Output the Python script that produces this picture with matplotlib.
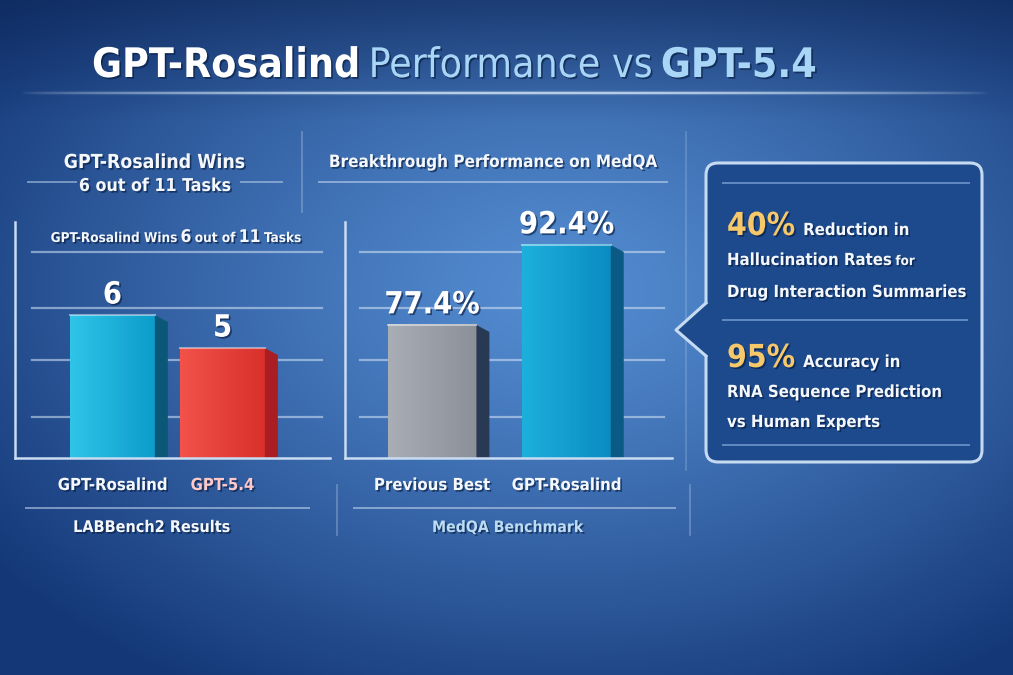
import numpy as np
import matplotlib
matplotlib.use('Agg')
import matplotlib.pyplot as plt
import matplotlib.patheffects as pe
from matplotlib.patches import FancyBboxPatch, Polygon
from matplotlib.colors import LinearSegmentedColormap

# data
lab_categories = ['GPT-Rosalind', 'GPT-5.4']
lab_wins = [6, 5]
lab_value_labels = ['6', '5']

medqa_categories = ['Previous Best', 'GPT-Rosalind']
medqa_scores = [77.4, 92.4]
medqa_value_labels = ['77.4%', '92.4%']

W, H = 1013, 675
plt.rcParams['font.family'] = ['DejaVu Sans']
plt.rcParams['font.stretch'] = 'condensed'

WHITE = '#f4f7fc'
LIGHTBLUE = '#a9d6f7'
GOLD = '#f6c86a'
SHADOW = [pe.withSimplePatchShadow(offset=(1.2, -1.2), shadow_rgbFace='#04183a', alpha=0.6)]

fig = plt.figure(figsize=(W / 100, H / 100), dpi=100)

# background gradient
bg = fig.add_axes([0, 0, 1, 1], zorder=0)
yy, xx = np.mgrid[0:H, 0:W]
d = np.sqrt(((xx - 560) / 700) ** 2 + ((yy - 290) / 460) ** 2)
t = np.clip(d, 0, 1) ** 1.2
center = np.array([0.33, 0.55, 0.82])
edge = np.array([0.08, 0.22, 0.47])
img = center * (1 - t[..., None]) + edge * t[..., None]
top_dark = np.clip((120 - yy) / 120, 0, 1)[..., None] * 0.55
img = img * (1 - top_dark) + np.array([0.05, 0.14, 0.33]) * top_dark
bg.imshow(img, extent=(0, W, H, 0), aspect='auto')
bg.set_xlim(0, W)
bg.set_ylim(H, 0)
bg.axis('off')

# overlay for texts and decorations, in pixel coordinates
ov = fig.add_axes([0, 0, 1, 1], zorder=5)
ov.set_xlim(0, W)
ov.set_ylim(H, 0)
ov.set_autoscale_on(False)
ov.axis('off')
ov.patch.set_alpha(0)

renderer = fig.canvas.get_renderer()


def text_runs(x, y, runs, ha='left', width=None):
    # runs: (text, props, gap after in px); width: scale font sizes to this total width
    arts, gaps = [], []
    for s, props, gap in runs:
        arts.append(ov.text(0, y, s, va='baseline', ha='left', path_effects=SHADOW, **props))
        gaps.append(gap)
    widths = [a.get_window_extent(renderer=renderer).width for a in arts]
    if width:
        k = width / (sum(widths) + sum(gaps))
        for a in arts:
            a.set_fontsize(a.get_fontsize() * k)
        gaps = [g * k for g in gaps]
        widths = [a.get_window_extent(renderer=renderer).width for a in arts]
    total = sum(widths) + sum(gaps)
    start = x - total / 2 if ha == 'center' else x
    for a, w, g in zip(arts, widths, gaps):
        a.set_x(start)
        start += w + g
    return arts


def hline(y, x0, x1, color='#c9dcf2', lw=1.4, alpha=0.75):
    ov.plot([x0, x1], [y, y], color=color, lw=lw, alpha=alpha, solid_capstyle='butt')


def vline(x, y0, y1, alpha=0.35):
    ov.plot([x, x], [y0, y1], color='#c9dcf2', lw=1.2, alpha=alpha)


# title
text_runs(92, 77, [
    ('GPT-Rosalind', dict(fontsize=34, weight='bold', color='white'), 10),
    ('Performance vs', dict(fontsize=34, color=LIGHTBLUE), 10),
    ('GPT-5.4', dict(fontsize=34, weight='bold', color=LIGHTBLUE), 0),
], width=726)

# glowing rule under the title, fading at both ends
gx = np.linspace(0, 1, 400)
gy = np.linspace(-1, 1, 9)
rule = np.zeros((len(gy), len(gx), 4))
rule[..., :3] = (0.9, 0.96, 1.0)
rule[..., 3] = (np.sin(np.pi * gx)[None, :] ** 0.6) * np.exp(-(gy[:, None] / 0.3) ** 2) * 0.95
rule[..., 3] += (np.sin(np.pi * gx)[None, :] ** 0.6) * (1 - np.abs(gy[:, None])) * 0.12
ov.imshow(np.clip(rule, 0, 1), extent=(20, 990, 97, 89), aspect='auto', zorder=1)

# left header
hdr = dict(fontsize=16, weight='bold', color=WHITE)
text_runs(155, 168, [('GPT-Rosalind Wins', hdr, 0)], ha='center', width=182)
text_runs(155, 191, [('6 out of 11 Tasks', hdr, 0)], ha='center', width=153)
hline(182, 27, 77, alpha=0.5)
hline(182, 240, 283, alpha=0.5)
vline(302, 132, 212)

# middle header
text_runs(493, 167, [('Breakthrough Performance on MedQA', dict(fontsize=14.5, weight='bold', color=WHITE), 0)],
          ha='center', width=327)
hline(182, 318, 668, alpha=0.55)
vline(686, 132, 470, alpha=0.25)

# left chart subtitle
small = dict(fontsize=12, weight='bold', color=WHITE)
big = dict(fontsize=15.5, weight='bold', color=WHITE)
text_runs(176, 242, [('GPT-Rosalind Wins', small, 4), ('6', big, 4), ('out of', small, 4),
                     ('11', big, 4), ('Tasks', small, 0)], ha='center', width=250)

# bottom captions
hline(508, 25, 310, alpha=0.55)
hline(508, 353, 676, alpha=0.55)
vline(337, 485, 535)
vline(690, 485, 535)
text_runs(152, 532, [('LABBench2 Results', dict(fontsize=13, weight='bold', color=WHITE), 0)],
          ha='center', width=157)
text_runs(508, 532, [('MedQA Benchmark', dict(fontsize=13, weight='bold', color='#bcdcf4'), 0)],
          ha='center', width=151)


def px_axes(x0, y0, x1, y1):
    return fig.add_axes([x0 / W, 1 - y1 / H, (x1 - x0) / W, (y1 - y0) / H], zorder=2)


def bar_chart(ax, cats, vals, labels, xlim, ylim, width, styles, label_colors, grid_rows, grid_span):
    ax.set_xlim(*xlim)
    ax.set_ylim(*ylim)
    ax.set_autoscale_on(False)
    ax.patch.set_alpha(0)
    for s in ['top', 'right']:
        ax.spines[s].set_visible(False)
    for s in ['left', 'bottom']:
        ax.spines[s].set_color('#c9dcf2')
        ax.spines[s].set_linewidth(1.8)
        ax.spines[s].set_zorder(4)

    # gridlines at the same pixel rows as the reference
    y0, y1 = ylim
    for r in grid_rows:
        v = y0 + (458 - r) / 236 * (y1 - y0)
        ax.axhline(v, xmin=grid_span[0], xmax=grid_span[1], color='#d6e6f7', lw=1.6, alpha=0.55, zorder=1)

    xpos = np.arange(len(cats))
    bars = ax.bar(xpos, vals, width=width, color='none', edgecolor='none', zorder=3)
    tr = ax.transData
    for b, (light, dark, side), lbl in zip(bars, styles, labels):
        bx0 = b.get_x()
        bx1 = bx0 + b.get_width()
        top = b.get_height()
        cmap = LinearSegmentedColormap.from_list('face', [light, dark])
        ax.imshow(np.linspace(0, 1, 64)[None, :], extent=(bx0, bx1, y0, top), cmap=cmap,
                  aspect='auto', zorder=3)
        ax.plot([bx0, bx1], [top, top], color='white', lw=1.5, alpha=0.45, zorder=3.5)
        p_top = tr.transform((bx1, top))
        p_bot = tr.transform((bx1, y0))
        pts = tr.inverted().transform([p_top, p_top + np.array([13, -7]), p_bot + np.array([13, 0]), p_bot])
        ax.add_patch(Polygon(pts, closed=True, facecolor=side, edgecolor='none', zorder=3))
        ax.annotate(lbl, (b.get_x() + b.get_width() / 2, top), xytext=(0, 4), textcoords='offset points',
                    ha='center', va='bottom', fontsize=22, weight='bold', color='white',
                    path_effects=SHADOW, zorder=6)

    ax.set_xticks(xpos)
    ax.set_xticklabels(cats, fontsize=12, weight='bold', path_effects=SHADOW)
    for tl, c in zip(ax.get_xticklabels(), label_colors):
        tl.set_color(c)
    ax.tick_params(axis='x', length=0, pad=13)
    ax.set_yticks([])


grid_rows = [252, 308, 360, 417]

ax1 = px_axes(15, 222, 330, 458)
bar_chart(ax1, lab_categories, lab_wins, lab_value_labels,
          xlim=(-0.886, 1.977), ylim=(1.67, 8.82), width=0.77,
          styles=[('#2fc4e8', '#0c9dca', '#0b5778'), ('#f2524a', '#d9302c', '#a91e22')],
          label_colors=[WHITE, '#ffc9c9'], grid_rows=grid_rows, grid_span=(0.054, 0.975))

ax2 = px_axes(345, 222, 672, 458)
bar_chart(ax2, medqa_categories, medqa_scores, medqa_value_labels,
          xlim=(-0.648, 1.786), ylim=(52.45, 96.7), width=0.66,
          styles=[('#a9adb5', '#8b9099', '#283954'), ('#1cb0dc', '#0a8cc2', '#0a5a85')],
          label_colors=[WHITE, WHITE], grid_rows=grid_rows, grid_span=(0.046, 0.975))

# callout box
box = FancyBboxPatch((706, 163), 276, 299, boxstyle='round,pad=0,rounding_size=12',
                     facecolor='#1d4a8d', edgecolor='#c6daf1', lw=2.2, zorder=1)
ov.add_patch(box)
ov.add_patch(Polygon([(708, 303), (676, 330), (708, 356)], closed=True,
                     facecolor='#1d4a8d', edgecolor='none', zorder=2))
ov.plot([706, 676, 706], [303, 330, 356], color='#c6daf1', lw=2.2, zorder=3)
hline(183, 722, 970, color='#8fb6e4', lw=1.2, alpha=0.7)
hline(320, 722, 968, color='#8fb6e4', lw=1.2, alpha=0.7)
hline(445, 722, 970, color='#8fb6e4', lw=1.2, alpha=0.7)

# size the body text so the widest line matches the reference, then reuse it
probe = text_runs(727, 297, [('Drug Interaction Summaries', dict(fontsize=15, weight='bold', color=WHITE), 0)],
                  width=240)
bsize = probe[0].get_fontsize()
body = dict(fontsize=bsize, weight='bold', color=WHITE)
stat = dict(fontsize=bsize * 1.9, weight='bold', color=GOLD)
text_runs(727, 235, [('40%', stat, 8), ('Reduction in', body, 0)])
text_runs(727, 265, [('Hallucination Rates', body, 4), ('for', dict(fontsize=bsize * 0.8, weight='bold', color=WHITE), 0)])
text_runs(727, 367, [('95%', stat, 8), ('Accuracy in', body, 0)])
text_runs(727, 397, [('RNA Sequence Prediction', body, 0)])
text_runs(727, 427, [('vs Human Experts', body, 0)])

fig.savefig('out.png', dpi=100)
